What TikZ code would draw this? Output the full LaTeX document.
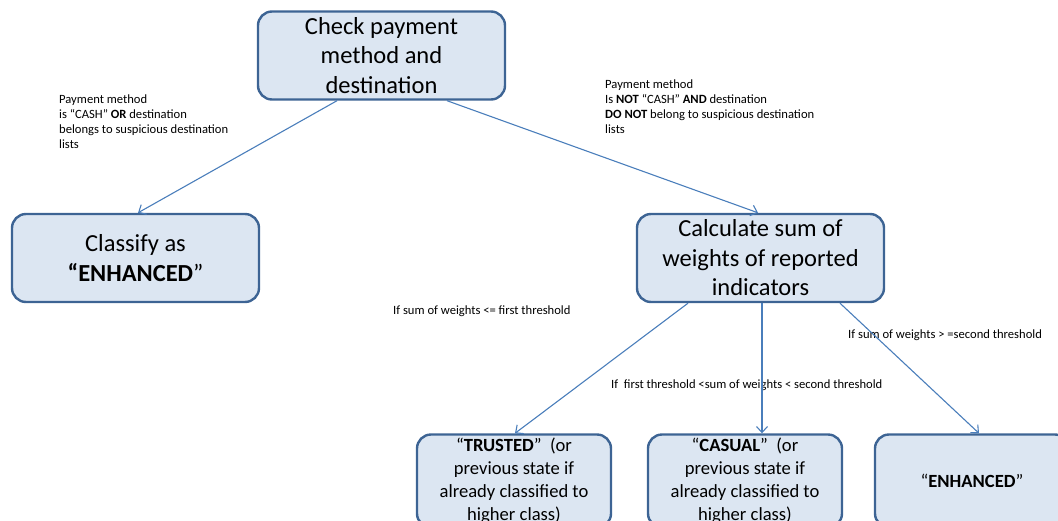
\documentclass[tikz,border=0pt]{standalone}
\usepackage{fontspec}
\setmainfont{Carlito}
\usetikzlibrary{arrows.meta}
\definecolor{boxfill}{HTML}{DCE6F2}
\definecolor{boxline}{HTML}{3D6494}
\definecolor{linkline}{HTML}{4A7EBB}
\tikzset{
  stepbox/.style={draw=boxline, fill=boxfill, line width=2.4pt, rounded corners=14pt,
    align=center, inner sep=0pt, minimum width=247pt, minimum height=88pt,
    font=\fontsize{24.5}{29.5}\selectfont},
  resultbox/.style={stepbox, minimum width=194pt, minimum height=93pt,
    font=\fontsize{18.6}{23}\selectfont},
  link/.style={draw=linkline, line width=1.1pt, -{Straight Barb[length=6pt,width=11pt]}},
  cond/.style={anchor=north west, align=left, inner sep=0pt,
    font=\fontsize{12.6}{15}\selectfont}
}
\begin{document}
\begin{tikzpicture}[x=1pt,y=-1pt]
\useasboundingbox (0,0) rectangle (1058,520);
\clip (0,0) rectangle (1058,520);
% decision steps
\node[stepbox] (check) at (381.5,55.5) {Check payment\\method and\\destination};
\node[stepbox] (enh1) at (135.5,258) {Classify as\\\textbf{“ENHANCED}”};
\node[stepbox] (calc) at (760.5,258) {Calculate sum of\\weights of reported\\indicators};
% final classes
\node[resultbox] (trusted) at (514,481) {“\textbf{TRUSTED}”~ (or\\previous state if\\already classified to\\higher class)};
\node[resultbox] (casual) at (745,481) {“\textbf{CASUAL}”~ (or\\previous state if\\already classified to\\higher class)};
\node[resultbox] (enh2) at (972,481) {“\textbf{ENHANCED}”};
% conditions
\node[cond] (c1) at (59,94.5) {Payment method\\is “CASH” \textbf{OR} destination\\belongs to suspicious destination\\lists};
\node[cond] (c2) at (605,79.5) {Payment method\\Is \textbf{NOT} “CASH” \textbf{AND} destination\\\textbf{DO NOT} belong to suspicious destination\\lists};
\node[cond] (c3) at (393,305.5) {If sum of weights <= first threshold};
\node[cond] (c4) at (611,379.5) {If~ first threshold <sum of weights < second threshold};
\node[cond] (c5) at (848,329.5) {If sum of weights > =second threshold};
% connectors
\draw[link] ([xshift=-44.5pt]check.south) -- ([xshift=2.5pt]enh1.north);
\draw[link] ([xshift=65.5pt]check.south) -- ([xshift=-2.5pt]calc.north);
\draw[link] ([xshift=-72.5pt]calc.south) -- ([xshift=1pt]trusted.north);
\draw[link] ([xshift=1.5pt]calc.south) -- ([xshift=17pt]casual.north);
\draw[link] ([xshift=79.5pt]calc.south) -- ([xshift=7pt]enh2.north);
\end{tikzpicture}
\end{document}
